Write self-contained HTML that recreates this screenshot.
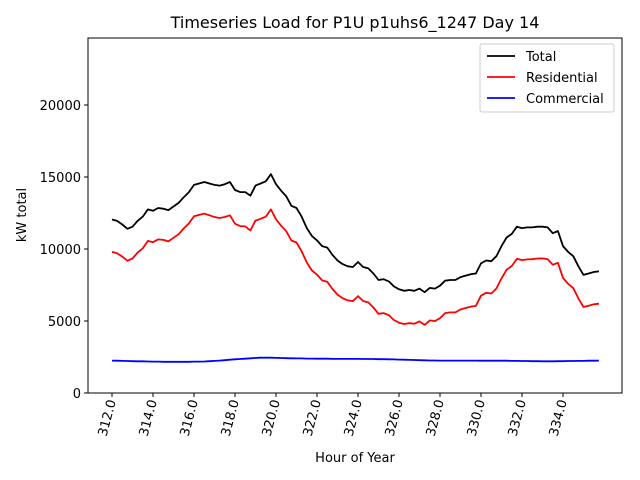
<!DOCTYPE html>
<html><head><meta charset="utf-8"><style>body{margin:0;background:#fff}svg{display:block;font-family:"DejaVu Sans","Liberation Sans",sans-serif}</style></head>
<body>
<svg id="chart" width="640" height="480" viewBox="0 0 640 480" xmlns="http://www.w3.org/2000/svg">
<rect width="640" height="480" fill="#fff"/>
<text x="355" y="28" font-size="16" text-anchor="middle">Timeseries Load for P1U p1uhs6_1247  Day 14</text>
<g id="plot"></g>
<text transform="translate(26,215) rotate(-90)" font-size="13" text-anchor="middle">kW total</text>
<text x="355" y="462" font-size="13" text-anchor="middle">Hour of Year</text>
<g>
<rect x="480" y="44" width="134" height="68" fill="#fff" stroke="#ccc" rx="2"/>
<line x1="487" y1="56" x2="515" y2="56" stroke="#000" stroke-width="1.8"/>
<text x="526" y="61" font-size="13">Total</text>
<line x1="487" y1="77" x2="515" y2="77" stroke="#f00" stroke-width="1.8"/>
<text x="526" y="82" font-size="13">Residential</text>
<line x1="487" y1="98" x2="515" y2="98" stroke="#00f" stroke-width="1.8"/>
<text x="526" y="103" font-size="13">Commercial</text>
</g>
</svg>
<script>
const startHour = 312, stepHour = 0.25;
const totalLoad = [12050,11950,11700,11400,11550,11950,12250,12750,12650,12850,12800,12700,12950,13200,13600,13950,14450,14550,14650,14550,14450,14400,14500,14650,14100,13950,13950,13700,14400,14550,14700,15200,14500,14050,13650,13000,12850,12250,11450,10900,10600,10200,10100,9600,9200,8950,8800,8750,9100,8750,8650,8300,7850,7900,7750,7400,7200,7100,7150,7100,7250,7000,7300,7250,7450,7800,7850,7850,8050,8150,8250,8300,9000,9200,9150,9500,10200,10800,11050,11550,11450,11500,11500,11550,11550,11500,11100,11250,10200,9800,9500,8800,8200,8300,8400,8450];
const residentialLoad = [9800,9710,9470,9180,9340,9750,10050,10560,10470,10670,10630,10530,10780,11030,11430,11780,12270,12370,12460,12340,12220,12150,12220,12340,11760,11590,11570,11290,11970,12100,12250,12750,12060,11620,11230,10590,10450,9850,9060,8510,8220,7820,7720,7230,6830,6580,6430,6380,6730,6390,6290,5940,5500,5550,5410,5070,4880,4790,4850,4810,4970,4730,5040,4990,5200,5550,5600,5600,5800,5900,6000,6050,6760,6960,6910,7260,7960,8560,8820,9320,9230,9280,9290,9340,9350,9300,8900,9040,7990,7580,7280,6570,5970,6060,6160,6200];
const commercialLoad = [2250,2240,2230,2220,2210,2200,2200,2190,2180,2180,2170,2170,2170,2170,2170,2170,2180,2180,2190,2210,2230,2250,2280,2310,2340,2360,2380,2410,2430,2450,2450,2450,2440,2430,2420,2410,2400,2400,2390,2390,2380,2380,2380,2370,2370,2370,2370,2370,2370,2360,2360,2360,2350,2350,2340,2330,2320,2310,2300,2290,2280,2270,2260,2260,2250,2250,2250,2250,2250,2250,2250,2250,2240,2240,2240,2240,2240,2240,2230,2230,2220,2220,2210,2210,2200,2200,2200,2210,2210,2220,2220,2230,2230,2240,2240,2250];
const yTicks = [0,5000,10000,15000,20000];
const xTicks = [312,314,316,318,320,322,324,326,328,330,332,334];

const L=88,R=622,T=38,B=393;
const xs = h => 112 + (h-312)*(563-112)/22;
const ys = v => B - v*(72/5000);
const ns="http://www.w3.org/2000/svg";
const g=document.getElementById('plot');
function mk(tag,attrs){const e=document.createElementNS(ns,tag);for(const k in attrs)e.setAttribute(k,attrs[k]);g.appendChild(e);return e;}
const frame=mk('rect',{x:L,y:T,width:R-L,height:B-T,fill:'none',stroke:'#000','stroke-width':1});


yTicks.forEach(v=>{
  const y=ys(v);
  const t=mk('line',{x1:L-4,x2:L,y1:y,y2:y,stroke:'#000'});
  
  
  const lb=mk('text',{x:L-7,y:y+5,'font-size':13,'text-anchor':'end'});
  lb.textContent=v;
  
  
});
xTicks.forEach(h=>{
  const x=xs(h);
  const t=mk('line',{x1:x,x2:x,y1:B,y2:B+4,stroke:'#000'});
  
  
  const lb=mk('text',{transform:`translate(${x+4},${B+8}) rotate(-75)`,'font-size':13,'text-anchor':'end'});
  lb.textContent=h.toFixed(1);
  
  
});
function line(arr,color,name){
  const pts=arr.map((v,i)=>xs(startHour+i*stepHour).toFixed(1)+','+ys(v).toFixed(1)).join(' ');
  const p=mk('polyline',{points:pts,fill:'none',stroke:color,'stroke-width':1.8,'stroke-linejoin':'round'});
  
  
}
line(totalLoad,'#000','total-line');
line(residentialLoad,'#f00','residential-line');
line(commercialLoad,'#00f','commercial-line');
</script>
</body></html>
